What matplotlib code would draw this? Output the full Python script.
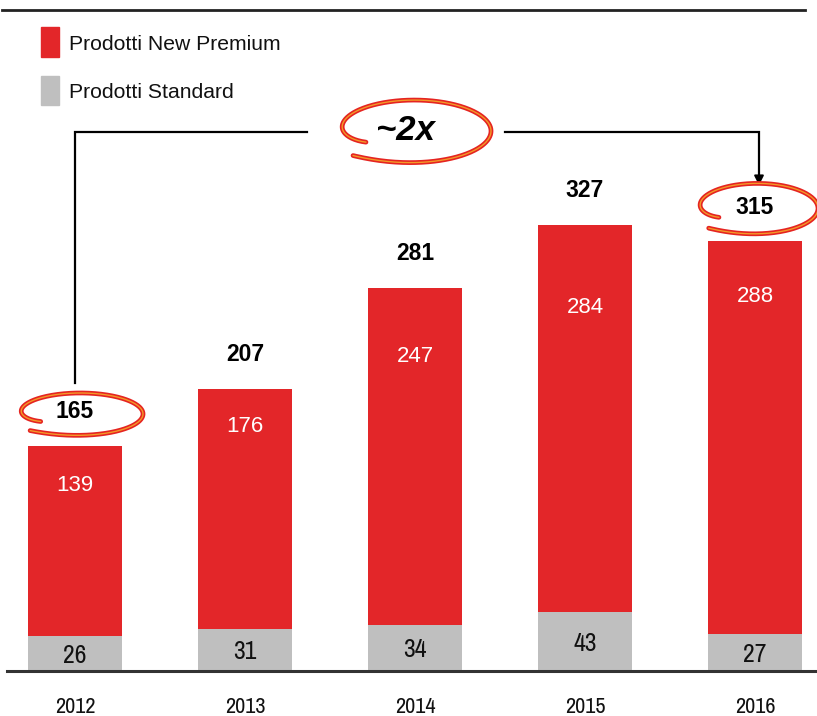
import numpy as np
import matplotlib.pyplot as plt
from matplotlib.patches import Rectangle

years = ['2012', '2013', '2014', '2015', '2016']
premium = [139, 176, 247, 284, 288]
standard = [26, 31, 34, 43, 27]
totals = [165, 207, 281, 327, 315]
growth_label = '~2x'

# layout (pixels)
W, H = 817, 716
PX_X = 170.0      # px per category
PX_Y = 1.364      # px per unit
inner_drop = [40, 38, 69, 83, 55]   # white label distance below bar top (px)

red = '#e32629'
gray = '#bfbfbf'
loop_red = '#e52421'
loop_orange = '#f39a28'

fig = plt.figure(figsize=(W / 100, H / 100), dpi=100)
ax = fig.add_axes([0, 45 / H, 1, 663 / H])
ax.set_xlim(-75 / PX_X, (W - 75) / PX_X)
ax.set_ylim(0, 663 / PX_Y)
ax.axis('off')

x = np.arange(len(years))
bw = 94 / PX_X
ax.bar(x, standard, bw, color=gray, zorder=2)
ax.bar(x, premium, bw, bottom=standard, color=red, zorder=2)

sans = ['Liberation Sans', 'DejaVu Sans']
narrow = ['Liberation Sans Narrow', 'Archivo Narrow', 'Liberation Sans']

for i in range(len(years)):
    ax.text(x[i], standard[i] / 2 - 2 / PX_Y, str(standard[i]), ha='center', va='center',
            fontsize=18.5, family=narrow, color='#111111', zorder=3)
    ax.text(x[i], totals[i] - inner_drop[i] / PX_Y, str(premium[i]), ha='center', va='center',
            fontsize=16, family=sans, color='white', zorder=3)
    ax.text(x[i], totals[i] + 34 / PX_Y, str(totals[i]), ha='center', va='center',
            fontsize=16.5, family=sans, fontweight='bold', color='black', zorder=3)
    ax.text(x[i], -36 / PX_Y, years[i], ha='center', va='center',
            fontsize=16, family=narrow, color='#111111', clip_on=False)

# baseline and top rule
ax.plot([-68 / PX_X, (W - 75) / PX_X], [0, 0], color='#333333', lw=2.2, clip_on=False, zorder=4)
top_y = 663 / PX_Y - 2 / PX_Y
ax.plot([-73 / PX_X, 730 / PX_X], [top_y, top_y], color='#222222', lw=2, clip_on=False)


def loop(cx, cy, rx, ry):
    u = np.linspace(0, 1, 300)
    t = np.radians(210 - 345 * u)
    s = 1 - 0.28 * np.exp(-u / 0.07) + 0.12 * np.exp(-(1 - u) / 0.07)
    xs = cx + s * rx * np.cos(t) / PX_X
    ys = cy + s * ry * np.sin(t) / PX_Y
    ax.plot(xs, ys, color=loop_red, lw=3.4, solid_capstyle='round', clip_on=False, zorder=5)
    ax.plot(xs, ys, color=loop_orange, lw=1.0, solid_capstyle='round', clip_on=False, zorder=6)


# circled first and last totals
loop(x[0] + 5 / PX_X, totals[0] + 32 / PX_Y, 63, 21)
loop(x[-1] + 2 / PX_X, totals[-1] + 33 / PX_Y, 61, 25)

# growth connector
conn_y = (671 - 132) / PX_Y
gx = (406 - 75) / PX_X
gy = (671 - 131) / PX_Y
ax.text(gx, gy, growth_label, ha='center', va='center', fontsize=25,
        family=sans, fontweight='bold', fontstyle='italic', color='black', zorder=6)
loop(gx + 8 / PX_X, gy, 77, 31)

ax.plot([x[0], x[0], gx - 99 / PX_X], [totals[0] + 63 / PX_Y, conn_y, conn_y],
        color='black', lw=1.6, solid_joinstyle='miter')
arrow_x = x[-1] + 4 / PX_X
ax.plot([gx + 99 / PX_X, arrow_x, arrow_x], [conn_y, conn_y, totals[-1] + 65 / PX_Y],
        color='black', lw=1.6, solid_joinstyle='miter')
ax.annotate('', xy=(arrow_x, totals[-1] + 56 / PX_Y), xytext=(arrow_x, totals[-1] + 70 / PX_Y),
            arrowprops=dict(arrowstyle='-|>', color='black', lw=1.4, mutation_scale=14,
                            shrinkA=0, shrinkB=0))

# legend
fig.patches.append(Rectangle((41 / W, 1 - 57 / H), 18 / W, 30 / H, color=red,
                             transform=fig.transFigure))
fig.patches.append(Rectangle((41 / W, 1 - 105 / H), 18 / W, 29 / H, color=gray,
                             transform=fig.transFigure))
fig.text(69 / W, 1 - 50 / H, 'Prodotti New Premium', fontsize=15.2, family=sans,
         va='baseline', ha='left', color='#111111')
fig.text(69 / W, 1 - 98 / H, 'Prodotti Standard', fontsize=15.2, family=sans,
         va='baseline', ha='left', color='#111111')

plt.savefig('out.png', dpi=100)
